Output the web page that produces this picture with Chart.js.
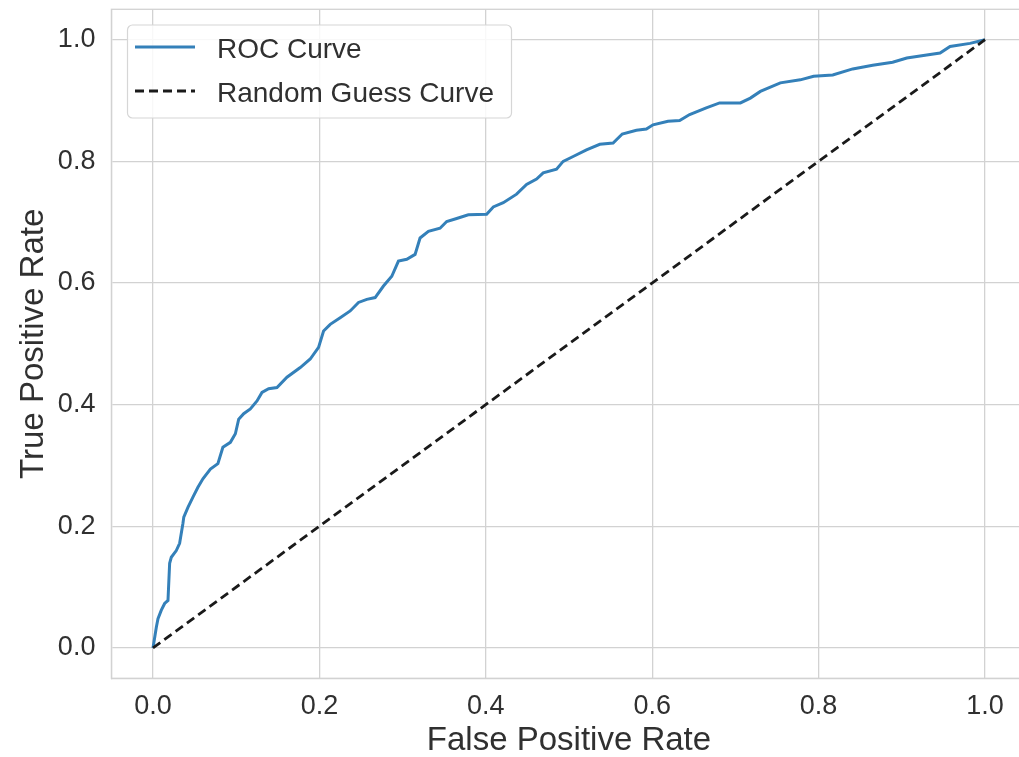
<!DOCTYPE html>
<html>
<head>
<meta charset="utf-8">
<script src="https://cdn.jsdelivr.net/npm/chart.js@4.4.1/dist/chart.umd.min.js"></script>
<style>
  html, body { margin: 0; padding: 0; background: #fff; overflow: hidden; }
  canvas { display: block; }
</style>
</head>
<body>
<canvas id="chart" width="1030" height="757"></canvas>
<script>
// values
const fprValues = [
  0.000, 0.004, 0.006, 0.010, 0.014, 0.018, 0.020, 0.022, 0.028, 0.032,
  0.036, 0.037, 0.042, 0.048, 0.054, 0.060, 0.069, 0.078, 0.084, 0.093,
  0.099, 0.103, 0.109, 0.117, 0.125, 0.131, 0.139, 0.149, 0.161, 0.177,
  0.189, 0.199, 0.205, 0.213, 0.225, 0.237, 0.247, 0.257, 0.267, 0.277,
  0.287, 0.295, 0.305, 0.315, 0.321, 0.331, 0.345, 0.353, 0.365, 0.379,
  0.401, 0.409, 0.421, 0.437, 0.449, 0.461, 0.469, 0.485, 0.493, 0.505,
  0.521, 0.537, 0.553, 0.564, 0.581, 0.593, 0.601, 0.619, 0.633, 0.645,
  0.665, 0.681, 0.706, 0.718, 0.730, 0.754, 0.778, 0.794, 0.817, 0.841,
  0.865, 0.889, 0.906, 0.930, 0.946, 0.958, 0.982, 1.000
];
const tprValues = [
  0.000, 0.034, 0.048, 0.062, 0.073, 0.078, 0.139, 0.149, 0.160, 0.172,
  0.205, 0.215, 0.231, 0.248, 0.264, 0.278, 0.294, 0.303, 0.330, 0.338,
  0.352, 0.376, 0.385, 0.393, 0.406, 0.420, 0.426, 0.428, 0.445, 0.461,
  0.475, 0.494, 0.521, 0.532, 0.543, 0.554, 0.568, 0.573, 0.576, 0.595,
  0.611, 0.636, 0.639, 0.647, 0.674, 0.685, 0.690, 0.701, 0.706, 0.712,
  0.713, 0.725, 0.732, 0.746, 0.762, 0.771, 0.781, 0.787, 0.800, 0.808,
  0.819, 0.828, 0.830, 0.845, 0.851, 0.853, 0.860, 0.866, 0.867, 0.877,
  0.888, 0.896, 0.896, 0.904, 0.915, 0.929, 0.934, 0.940, 0.942, 0.952,
  0.958, 0.963, 0.970, 0.975, 0.978, 0.989, 0.994, 1.000
];
const guessX = [0, 1];
const guessY = [0, 1];
const tickValues = [0, 0.2, 0.4, 0.6, 0.8, 1.0];

const rocLabel = "ROC Curve";
const guessLabel = "Random Guess Curve";

const rocColor = "#3480b9";
const guessColor = "#1a1a1a";
const gridColor = "#d2d2d2";
const textColor = "#303030";
const fontFamily = "'Liberation Sans', Arial, sans-serif";

const rocPoints = fprValues.map((x, i) => ({ x: x, y: tprValues[i] }));
const guessPoints = guessX.map((x, i) => ({ x: x, y: guessY[i] }));

// frame round the plot area (top edge is not drawn by the scales)
const framePlugin = {
  id: "frame",
  beforeDatasetsDraw(chart) {
    const a = chart.chartArea;
    const ctx = chart.ctx;
    ctx.save();
    ctx.strokeStyle = gridColor;
    ctx.lineWidth = 1.3;
    ctx.strokeRect(a.left, a.top, a.right - a.left, a.bottom - a.top);
    ctx.restore();
  },
};

// legend box in the upper left corner, like matplotlib's
const legendPlugin = {
  id: "cornerLegend",
  afterDraw(chart) {
    const ctx = chart.ctx;
    const bx = 127.5, by = 25, bw = 384, bh = 93, r = 5;
    ctx.save();
    ctx.beginPath();
    ctx.roundRect(bx, by, bw, bh, r);
    ctx.fillStyle = "rgba(255,255,255,0.85)";
    ctx.fill();
    ctx.strokeStyle = "#d6d6d6";
    ctx.lineWidth = 1.2;
    ctx.stroke();

    const rows = [
      { label: rocLabel, color: rocColor, dash: [], y: 47 },
      { label: guessLabel, color: guessColor, dash: [9, 5], y: 91 },
    ];
    ctx.font = "28px " + fontFamily;
    ctx.textBaseline = "alphabetic";
    rows.forEach(function (row) {
      ctx.beginPath();
      ctx.setLineDash(row.dash);
      ctx.strokeStyle = row.color;
      ctx.lineWidth = 2.8;
      ctx.moveTo(135, row.y);
      ctx.lineTo(195, row.y);
      ctx.stroke();
      ctx.setLineDash([]);
      ctx.fillStyle = textColor;
      ctx.fillText(row.label, 217, row.y + 11);
    });
    ctx.restore();
  },
};

function fixedTicks(axis) {
  axis.ticks = tickValues.map((v) => ({ value: v }));
}

const canvasRef = document.getElementById("chart");

const myChart = new Chart(canvasRef, {
  type: "line",
  data: {
    datasets: [
      {
        label: guessLabel,
        data: guessPoints,
        borderColor: guessColor,
        borderWidth: 2.8,
        borderDash: [9, 5],
        pointRadius: 0,
        fill: false,
      },
      {
        label: rocLabel,
        data: rocPoints,
        borderColor: rocColor,
        borderWidth: 3,
        pointRadius: 0,
        tension: 0,
        fill: false,
      },
    ],
  },
  options: {
    responsive: false,
    animation: false,
    devicePixelRatio: 1,
    layout: {
      padding: { top: 9.3, right: 3.4, left: 0, bottom: 0 },
    },
    plugins: {
      legend: { display: false },
      tooltip: { enabled: false },
    },
    scales: {
      x: {
        type: "linear",
        min: -0.05,
        max: 1.05,
        afterBuildTicks: fixedTicks,
        afterFit(scale) {
          scale.height = 78.7;
          scale.paddingLeft = 0;
          scale.paddingRight = 0;
        },
        ticks: {
          callback: (v) => v.toFixed(1),
          color: textColor,
          font: { family: fontFamily, size: 27 },
          padding: 12,
          maxRotation: 0,
        },
        grid: { color: gridColor, lineWidth: 1.3, drawTicks: false },
        border: { color: gridColor, width: 1.3 },
        title: {
          display: true,
          text: "False Positive Rate",
          color: textColor,
          font: { family: fontFamily, size: 33 },
          padding: { top: 0, bottom: -4 },
        },
      },
      y: {
        type: "linear",
        min: -0.05,
        max: 1.05,
        afterBuildTicks: fixedTicks,
        afterFit(scale) {
          scale.width = 111.4;
          scale.paddingTop = 0;
          scale.paddingBottom = 0;
        },
        ticks: {
          callback: (v) => v.toFixed(1),
          color: textColor,
          font: { family: fontFamily, size: 27 },
          padding: 16,
        },
        grid: { color: gridColor, lineWidth: 1.3, drawTicks: false },
        border: { color: gridColor, width: 1.3 },
        title: {
          display: true,
          text: "True Positive Rate",
          color: textColor,
          font: { family: fontFamily, size: 33 },
          padding: { top: 14, bottom: 0 },
        },
      },
    },
  },
  plugins: [framePlugin, legendPlugin],
});
</script>
</body>
</html>
